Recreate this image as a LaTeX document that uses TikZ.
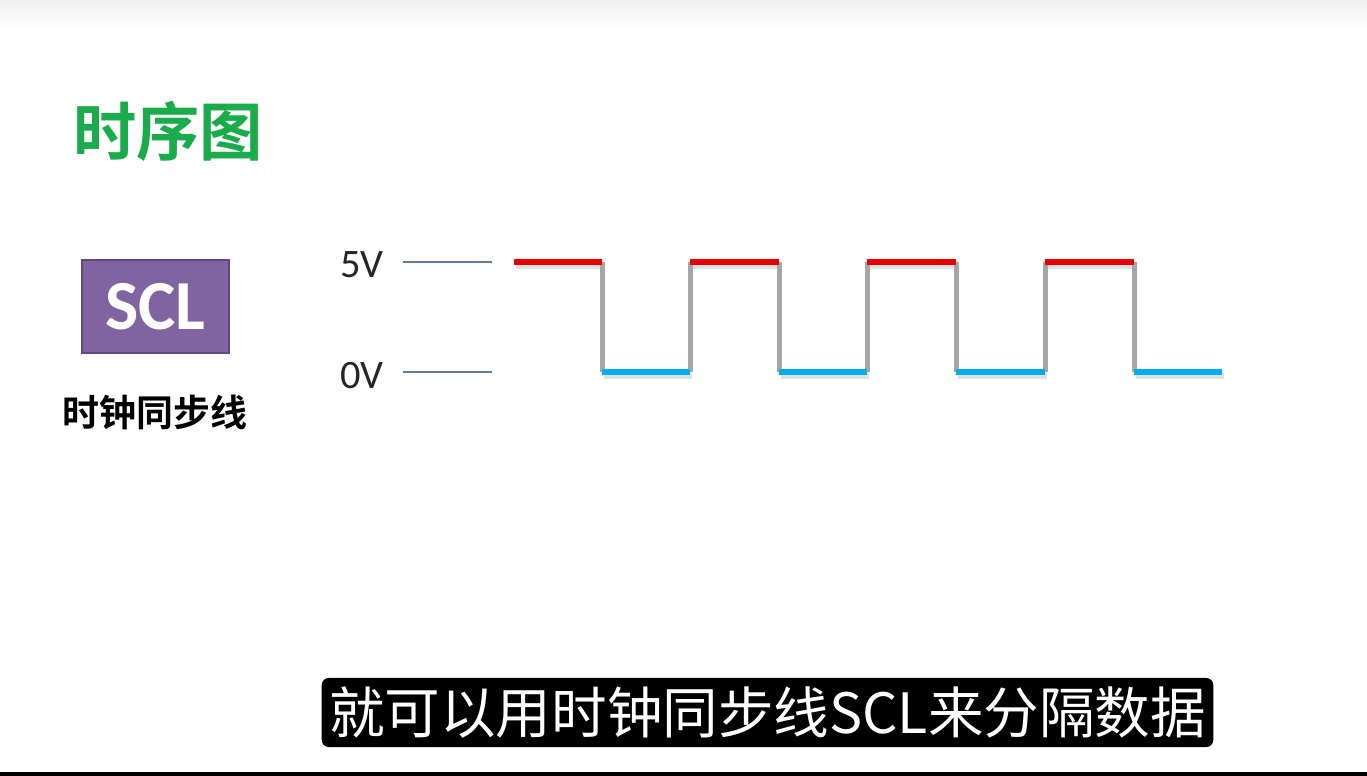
\documentclass[tikz,border=0pt]{standalone}
\usepackage{fontspec}
\setmainfont{Carlito}
\newfontfamily\cjk{Noto Sans CJK SC}
\newfontfamily\cjkbold{Noto Sans CJK SC Bold}
\definecolor{titlegreen}{RGB}{26,171,75}
\definecolor{sclpurple}{RGB}{128,100,162}
\definecolor{sclborder}{RGB}{96,74,124}
\definecolor{refblue}{RGB}{96,124,160}
\definecolor{wavered}{RGB}{232,0,0}
\definecolor{waveblue}{RGB}{0,174,236}
\definecolor{wavegray}{RGB}{166,166,166}
\tikzset{
  reflevel/.style={draw=refblue,line width=0.45pt},
  hiseg/.style={draw=wavered,line width=1.7pt},
  loseg/.style={draw=waveblue,line width=1.7pt},
  edgeseg/.style={draw=wavegray,line width=1.42pt},
  shadowseg/.style={draw=black,opacity=0.12,line width=1.8pt},
  lvltext/.style={font=\fontsize{11.5}{13}\selectfont,text=black!85,inner sep=0pt}
}
\begin{document}
\begin{tikzpicture}[x=0.01cm,y=-0.01cm]
\useasboundingbox (0,0) rectangle (1367,776);
\fill[white] (0,0) rectangle (1367,776);
\shade[top color=black!6,bottom color=white] (0,0) rectangle (1367,28);
% title
\node[inner sep=0pt,text=titlegreen,font=\cjkbold\fontsize{18}{20}\selectfont] (title) at (168,131) {时序图};
% SCL box
\node[draw=sclborder,line width=0.6pt,fill=sclpurple,minimum width=1.47cm,minimum height=0.93cm,inner sep=0pt,
      text=white,font=\bfseries\fontsize{20}{22}\selectfont] (scl) at (155.5,306.5) {SCL};
\node[inner sep=0pt,font=\cjkbold\fontsize{10.5}{12}\selectfont] (scllabel) at (155,412) {时钟同步线};
% level labels
\node[lvltext] (v5) at (362,265) {5V};
\node[lvltext] (v0) at (362,376) {0V};
\coordinate (r5a) at (403,262); \coordinate (r5b) at (492,262);
\coordinate (r0a) at (403,372); \coordinate (r0b) at (492,372);
\draw[reflevel] (r5a) -- (r5b);
\draw[reflevel] (r0a) -- (r0b);
% waveform
\foreach \i/\x in {0/514,1/602,2/690,3/779,4/867,5/956,6/1045,7/1134,8/1222}{
  \coordinate (h\i) at (\x,262);
  \coordinate (l\i) at (\x,372);
}
% shadows
\foreach \a/\b in {0/1,2/3,4/5,6/7}{
  \draw[shadowseg] ([shift={(2,4)}]h\a) -- ([shift={(2,4)}]h\b);
}
\foreach \a/\b in {1/2,3/4,5/6,7/8}{
  \draw[shadowseg] ([shift={(2,4)}]l\a) -- ([shift={(2,4)}]l\b);
}
\foreach \i in {1,...,7}{
  \draw[edgeseg] (h\i) -- (l\i);
}
\foreach \a/\b in {0/1,2/3,4/5,6/7}{
  \draw[hiseg] (h\a) -- (h\b);
}
\foreach \a/\b in {1/2,3/4,5/6,7/8}{
  \draw[loseg] (l\a) -- (l\b);
}
% caption
\node[fill=black,rounded corners=2pt,minimum width=8.91cm,minimum height=0.69cm,inner sep=0pt,
      text=white,font=\cjk\fontsize{15.8}{18}\selectfont] (caption) at (767.5,712.5) {就可以用时钟同步线SCL来分隔数据};
% bottom rule
\fill[black] (0,772) rectangle (1367,776);
\end{tikzpicture}
\end{document}
